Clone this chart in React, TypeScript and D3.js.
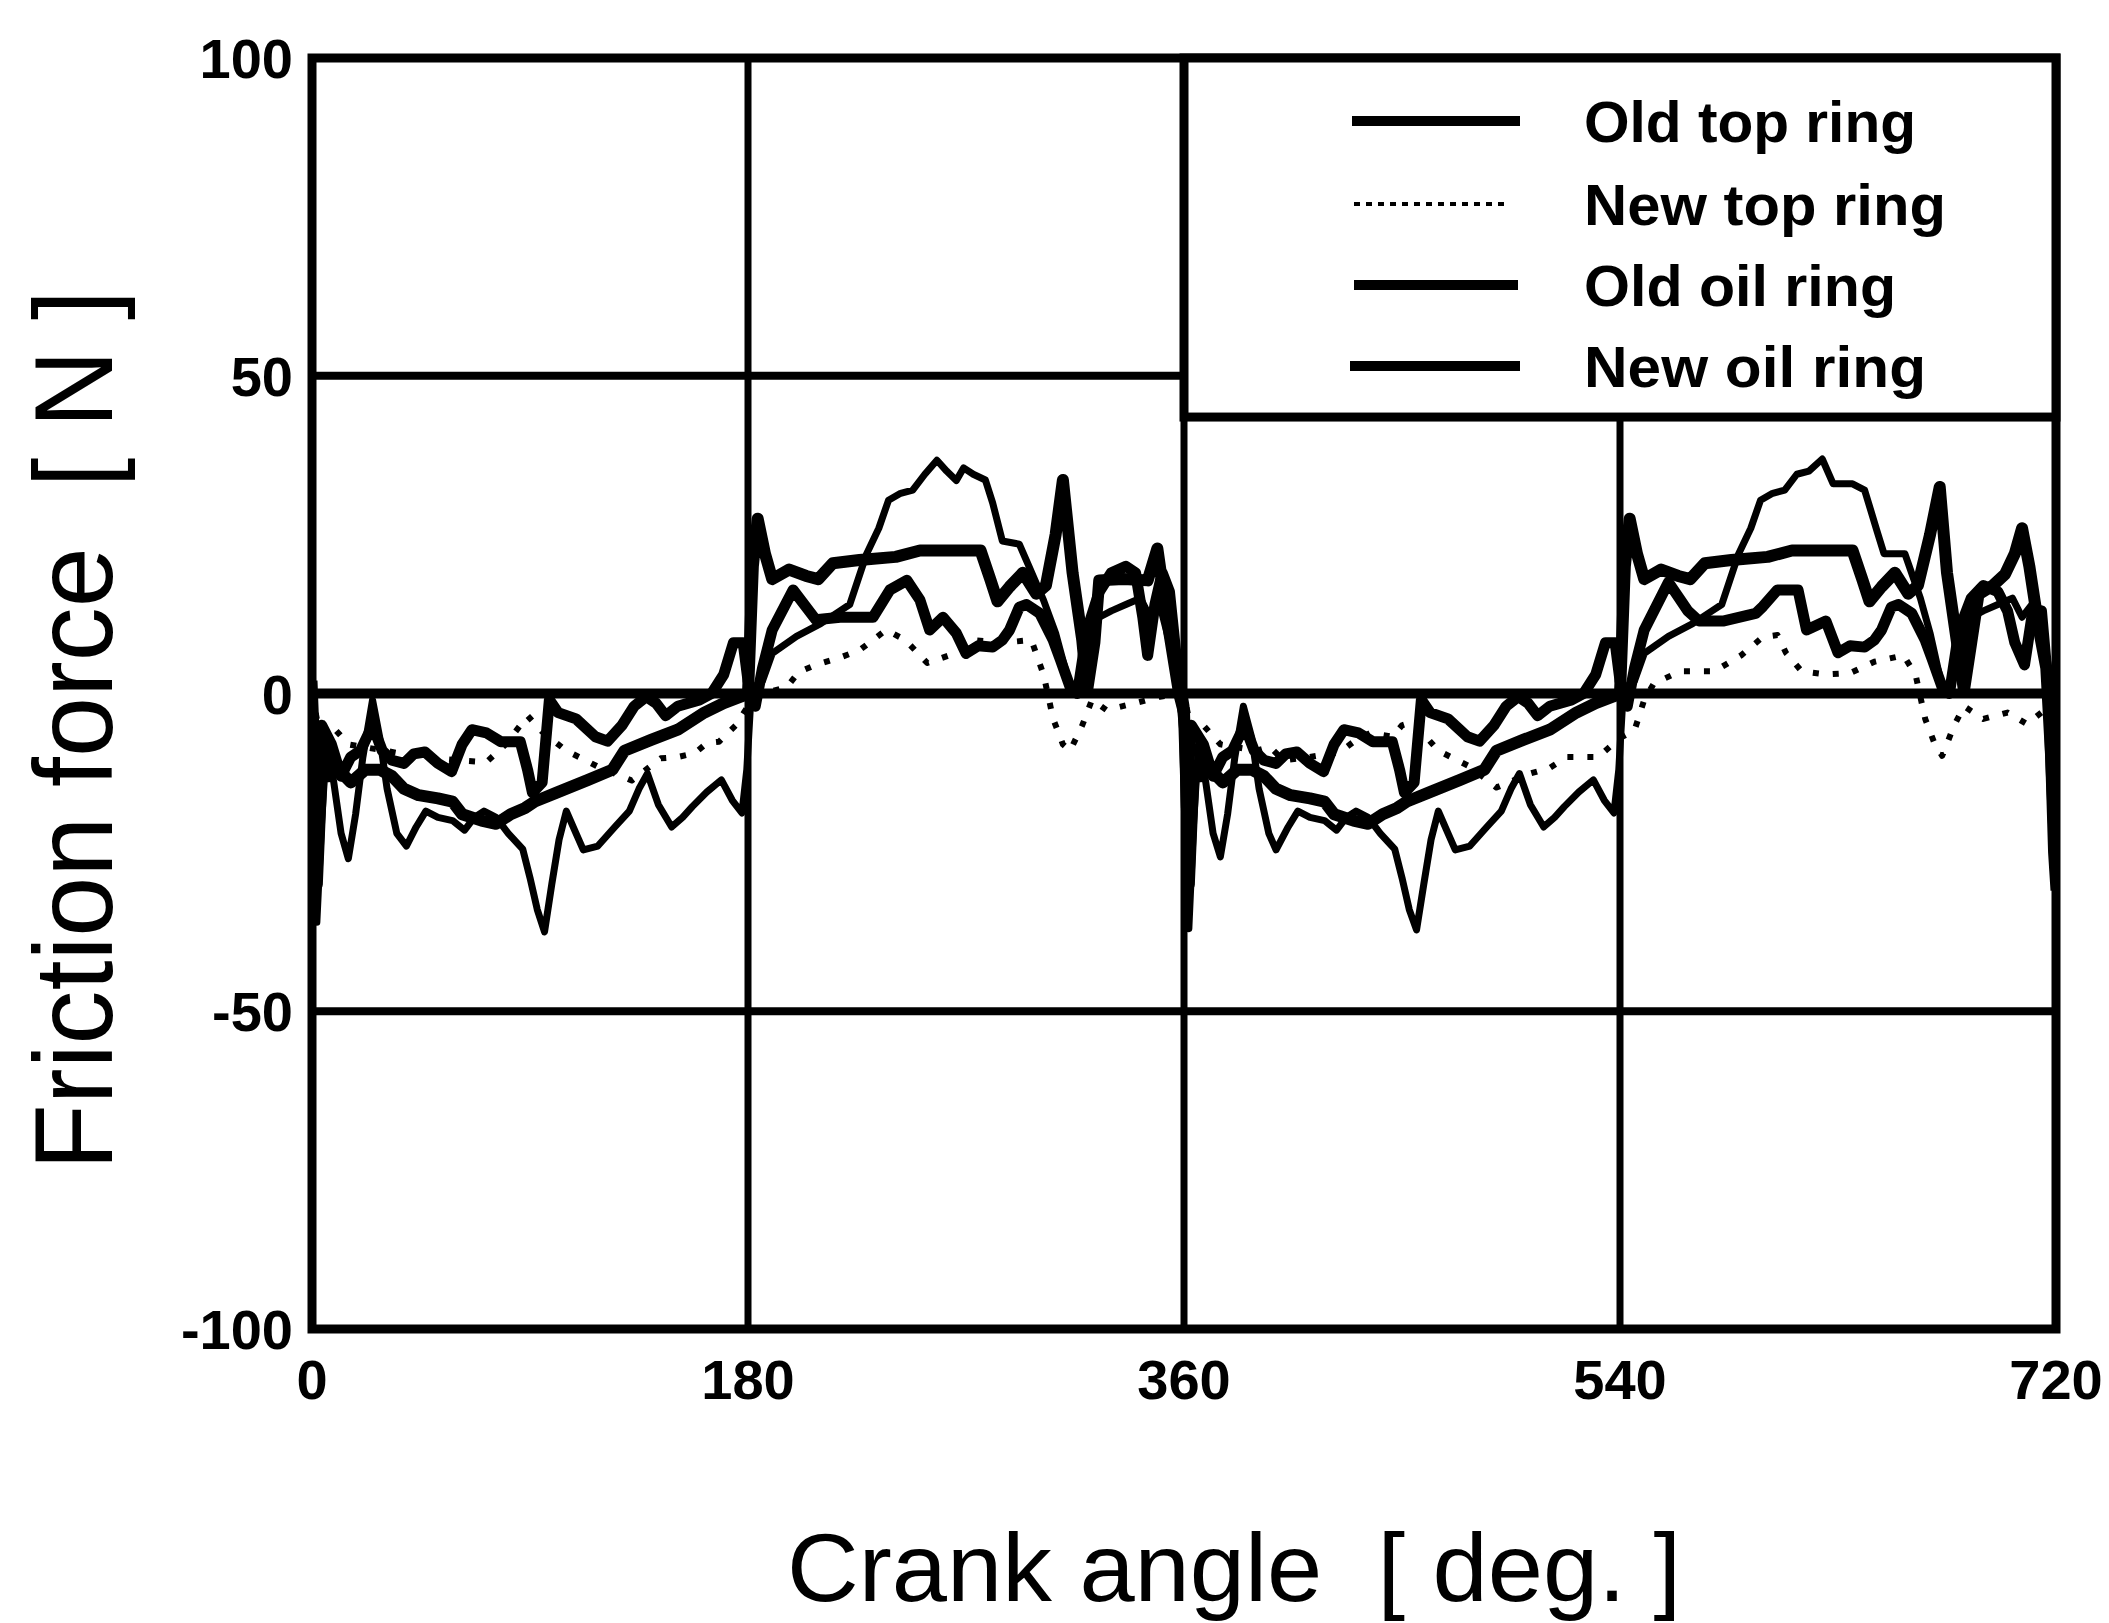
import React from 'react';
import * as d3 from 'd3';

// crank angle [deg], friction force [N]
const xTicks = [0, 180, 360, 540, 720];
const yTicks = [100, 50, 0, -50, -100];

const oldTopRing: [number, number][] = [
  [0, 2], [2, -18], [4, -5], [8, -8], [12, -13], [16, -10], [20, -9], [25, -5], [29, -9], [33, -10.5],
  [38, -11], [42, -9.5], [46.6, -9.2], [52, -11], [57.6, -12.3], [62, -8], [66, -5.7], [72, -6.2], [78, -7.6], [86, -7.6],
  [89, -12], [91, -15.6], [95, -14], [98, -1], [101.6, -3], [109, -4], [117, -6.8], [122, -7.5], [128, -5], [133, -2],
  [138, -0.5], [142, -1.5], [146, -3.5], [151, -2], [160, -1], [165, 0], [170, 3], [174, 8], [178, 8], [180, 2],
  [183, -2], [186, 4], [190, 10], [198.6, 16.3], [208, 11.6], [218, 12], [231.6, 12], [238.6, 16.3], [245.6, 17.8], [251, 14.7],
  [255, 10], [260.5, 12], [266, 9.5], [270, 6.3], [275, 7.5], [281, 7.3], [285, 8.4], [288, 10], [292, 13.6], [295, 14],
  [300.5, 12.6], [306, 8.4], [309, 5.3], [313, 1], [316, 0], [320, 10], [325, 16], [330, 19], [336, 20], [340, 19],
  [343, 12], [345, 6], [348, 14], [351, 19], [354, 16], [357, 5], [360, -2],
  [361, -18], [363, -5], [368, -8], [372, -13], [376, -10], [380, -9], [385, -5], [389, -9], [393, -10.5], [398, -11],
  [402, -9.5], [406.6, -9.2], [412, -11], [417.6, -12.3], [422, -8], [426, -5.7], [432, -6.2], [438, -7.6], [446, -7.6], [449, -12],
  [451, -15.6], [455, -14], [458, -1], [461.6, -3], [469, -4], [477, -6.8], [482, -7.5], [488, -5], [493, -2], [498, -0.5],
  [502, -1.5], [506, -3.5], [511, -2], [520, -1], [525, 0], [530, 3], [534, 8], [538, 8], [540, 2], [543, -2],
  [546, 4], [550, 10], [560, 17.5], [568, 13], [572.6, 11.4], [582.5, 11.4], [596, 12.6], [599, 13.7], [605, 16.3], [613.5, 16.3],
  [617, 10], [625, 11.4], [630, 6.4], [635, 7.5], [641, 7.3], [645, 8.4], [648, 10], [652, 13.6], [655, 14], [660.5, 12.6],
  [666, 8.4], [669, 5.3], [673, 1], [676, 0], [680, 10], [685, 15], [690, 17], [696, 16], [700, 13], [703, 8],
  [707, 4.5], [710, 12], [714, 13], [717, 0], [719, -25], [720, -31],
];

const newTopRing: [number, number][] = [
  [0, 0], [3, -6], [8, -5], [15, -8], [30, -9], [45, -10], [60, -10.5], [72, -10.8], [80, -8], [89, -3.5],
  [95, -6], [105, -9], [118, -11.5], [132, -13.7], [144, -10.2], [151, -10], [158, -9.4], [163, -7.8], [168, -7.6], [175, -5],
  [180, -2], [186, 0], [196, 1], [201, 3.4], [208, 4.5], [219, 5.8], [226, 6.8], [237, 10], [245, 8.4], [254, 4.8],
  [263, 6], [273, 8.4], [285, 8], [297, 8.4], [302, 3], [306, -4], [310, -8], [313, -9], [318, -5], [322, -1],
  [328, -2.6], [340, -1.5], [350, -0.5], [360, 0],
  [363, -6], [368, -5], [375, -8], [390, -9], [395.5, -8.4], [401, -10.5], [412, -10], [424.5, -9.2], [430, -7.6], [437, -6.2],
  [446, -6.8], [450, -5], [454, -4.5], [458, -6], [465, -9], [478, -11.5], [489, -14.8], [502, -12.7], [511, -11.7], [518, -10],
  [531, -10], [540, -7], [546, -5.8], [550, -1], [554, 1.6], [565, 3.5], [579, 3.5], [590, 6], [599, 8.9], [605, 9.2],
  [608.5, 6.4], [615, 3.5], [625, 3], [635, 3.2], [645, 5], [657, 6], [662, 3], [666, -4], [670, -8], [673, -9.8],
  [678, -5], [682, -2], [690, -4], [700, -3], [708, -4.8], [714, -3], [718, -1], [720, -4],
];

const oldOilRing: [number, number][] = [
  [0, 8], [1, -18], [2, -36], [4, -20], [6, -8], [9, -14], [12, -22], [15, -26], [18, -19], [21, -10],
  [25, -1], [28, -7], [31, -15], [35, -22], [39, -24], [43, -21], [47, -18.5], [52, -19.5], [58, -20], [63, -21.5],
  [67, -19.5], [71, -18.5], [76, -19.5], [81, -22], [87, -24.5], [90, -29], [93, -34], [96, -37.5], [99, -30], [102, -23],
  [105, -18.5], [109, -22], [112, -24.6], [118, -24], [125, -21], [131, -18.5], [135, -15], [138.5, -12.6], [143, -17.5], [148.5, -21],
  [153, -19.5], [157, -17.8], [163, -15.5], [169, -13.6], [173.5, -16.8], [177.5, -18.8], [179.5, -12], [181, -2], [183, 1], [186, 2],
  [190, 6.3], [200, 9], [210, 11], [218, 13], [222, 14], [229, 22], [234, 26], [238, 30.4], [243, 31.5], [248, 32],
  [253, 34.5], [258, 36.7], [262, 35], [266, 33.5], [269, 35.5], [273, 34.5], [278, 33.6], [281, 30], [285, 24], [292, 23.5],
  [296, 20], [302, 14.7], [307, 9.5], [313, 1], [316, 0.5], [320, 5], [325, 12], [330, 13], [336, 14], [342, 15],
  [346, 12], [350, 14], [354, 8], [358, 0], [360, -8],
  [361, -20], [362, -37], [364, -20], [366, -8], [369, -14], [372, -22], [375, -25.7], [378, -19], [381, -10], [384.5, -2],
  [388, -7], [391, -15], [395, -22], [398, -24.6], [403, -21], [407, -18.5], [412, -19.5], [418, -20], [423, -21.5], [427, -19.5],
  [431, -18.5], [436, -19.5], [441, -22], [447, -24.5], [450, -29], [453, -34], [456, -37.2], [459, -30], [462, -23], [465, -18.5],
  [469, -22], [472, -24.6], [478, -24], [485, -21], [491, -18.5], [495, -15], [498.5, -12.6], [503, -17.5], [508.5, -21], [513, -19.5],
  [517, -17.8], [523, -15.5], [529, -13.6], [533.5, -16.8], [537.5, -18.8], [539.5, -12], [541, -2], [543, 1], [546, 2], [550, 6.3],
  [560, 9], [570, 11], [578, 13], [582, 14], [589, 22], [594, 26], [598, 30.4], [603, 31.5], [608, 32], [613, 34.5],
  [618, 35], [623.5, 36.9], [628, 33], [636, 33], [641, 32], [646, 25.7], [649, 22], [657.6, 22], [664, 15], [668, 9.5],
  [673, 1], [676, 0.5], [680, 5], [685, 12], [690, 13], [696, 14], [702, 15], [706, 12], [710, 14], [714, 8],
  [717, 0], [719, -20], [720, -30],
];

const newOilRing: [number, number][] = [
  [0, -6], [2, -30], [4, -12], [7, -13], [11, -12], [16, -14], [22, -12], [28, -12], [33, -13], [38, -15],
  [44, -16], [52, -16.5], [58, -17], [62, -19], [70, -20], [76, -20.5], [82, -19], [88, -18], [92, -17], [101, -15.6],
  [114, -13.6], [124, -12], [129, -9], [140, -7.3], [151, -5.7], [162, -3], [170, -1.5], [177, -0.5], [180, 0], [182, 20],
  [184, 27.5], [187, 22], [190, 18], [197, 19.5], [204, 18.5], [209, 18], [215, 20.5], [226, 21], [241, 21.5], [251, 22.5],
  [265, 22.5], [276, 22.5], [280, 18], [283, 14.5], [288, 16.8], [293.5, 19], [299, 15.7], [303, 17], [307, 25], [310, 33.6],
  [314, 19], [318, 8.4], [320, 0.5], [323, 8], [325, 17.8], [335, 18], [345, 17.8], [349, 22.8], [354, 9.4], [358, 0],
  [360, -3],
  [361, -15], [362, -30], [364, -12], [367, -13], [371, -12], [376, -14], [382, -12], [388, -12], [393, -13], [398, -15],
  [404, -16], [412, -16.5], [418, -17], [422, -19], [430, -20], [436, -20.5], [442, -19], [448, -18], [452, -17], [461, -15.6],
  [474, -13.6], [484, -12], [489, -9], [500, -7.3], [511, -5.7], [522, -3], [530, -1.5], [537, -0.5], [540, 0], [542, 20],
  [544, 27.5], [547, 22], [550, 18], [557, 19.5], [564, 18.5], [569, 18], [575, 20.5], [586, 21], [601, 21.5], [611, 22.5],
  [625, 22.5], [636, 22.5], [640, 18], [643, 14.5], [648, 16.8], [653.5, 19], [659, 15.7], [663, 17], [668, 25], [672, 32.5],
  [675, 19], [679, 8.4], [682, 0.5], [685, 8], [688, 15.6], [694, 17], [699, 18.8], [703, 22], [706, 26], [709, 20],
  [713, 10], [716, 4], [718, -10], [720, -28],
];

const legendLabels = ['Old top ring', 'New top ring', 'Old oil ring', 'New oil ring'];
const legendWidths = [332, 362, 312, 342];

const font = 'Liberation Sans, Arial, Helvetica, sans-serif';

export default function App() {
  const x = d3.scaleLinear().domain([0, 720]).range([312, 2056]);
  const y = d3.scaleLinear().domain([-100, 100]).range([1329, 58]);
  const line = d3.line<[number, number]>().x(d => x(d[0])).y(d => y(d[1]));

  const legendBottom = y(43.5);
  const series = [
    { data: oldOilRing, w: 7, dash: undefined },
    { data: oldTopRing, w: 11, dash: undefined },
    { data: newOilRing, w: 12, dash: undefined },
    { data: newTopRing, w: 6, dash: '6 14' },
  ];
  const legendStyle = [
    { w: 10, dash: undefined, x0: 1352, x1: 1520 },
    { w: 4, dash: '6 6', x0: 1354, x1: 1506 },
    { w: 10, dash: undefined, x0: 1354, x1: 1518 },
    { w: 10, dash: undefined, x0: 1350, x1: 1520 },
  ];
  const legendRows = [121, 204, 285, 366];

  return (
    <svg width={2109} height={1623} style={{ position: 'absolute', left: 0, top: 0, background: '#fff' }}>
      <defs>
        <clipPath id="plotArea">
          <rect x={x(0)} y={y(100)} width={x(720) - x(0)} height={y(-100) - y(100)} />
        </clipPath>
      </defs>

      {/* grid */}
      <line x1={x(0)} x2={x(360)} y1={y(50)} y2={y(50)} stroke="#000" strokeWidth={8} />
      <line x1={x(0)} x2={x(720)} y1={y(-50)} y2={y(-50)} stroke="#000" strokeWidth={8} />
      <line x1={x(180)} x2={x(180)} y1={y(100)} y2={y(-100)} stroke="#000" strokeWidth={7} />
      <line x1={x(360)} x2={x(360)} y1={y(100)} y2={y(-100)} stroke="#000" strokeWidth={7} />
      <line x1={x(540)} x2={x(540)} y1={legendBottom} y2={y(-100)} stroke="#000" strokeWidth={7} />
      <line x1={x(0)} x2={x(720)} y1={y(0)} y2={y(0)} stroke="#000" strokeWidth={10} />

      <g clipPath="url(#plotArea)" fill="none" stroke="#000" strokeLinejoin="round">
        {series.map((s, i) => (
          <path key={i} d={line(s.data) || ''} strokeWidth={s.w} strokeDasharray={s.dash} />
        ))}
      </g>

      {/* frame */}
      <rect x={x(0)} y={y(100)} width={x(720) - x(0)} height={y(-100) - y(100)} fill="none" stroke="#000" strokeWidth={9} />

      {/* legend */}
      <rect x={x(360)} y={y(100)} width={x(720) - x(360)} height={legendBottom - y(100)} fill="#fff" stroke="#000" strokeWidth={9} />
      {legendLabels.map((label, i) => (
        <g key={label}>
          <line x1={legendStyle[i].x0} x2={legendStyle[i].x1} y1={legendRows[i]} y2={legendRows[i]}
            stroke="#000" strokeWidth={legendStyle[i].w} strokeDasharray={legendStyle[i].dash} />
          <text x={1584} y={legendRows[i] + 21} fontFamily={font} fontWeight="bold" fontSize={58}
            textLength={legendWidths[i]} lengthAdjust="spacingAndGlyphs">{label}</text>
        </g>
      ))}

      {/* ticks */}
      {yTicks.map(t => (
        <text key={t} x={293} y={y(t) + 20} textAnchor="end" fontFamily={font} fontWeight="bold" fontSize={56}>{t}</text>
      ))}
      {xTicks.map(t => (
        <text key={t} x={x(t)} y={1399} textAnchor="middle" fontFamily={font} fontWeight="bold" fontSize={56}>{t}</text>
      ))}

      {/* axis titles */}
      <text x={1234} y={1601} textAnchor="middle" fontFamily={font} fontSize={96}
        textLength={894} lengthAdjust="spacingAndGlyphs" style={{ whiteSpace: 'pre' }}>Crank angle  [ deg. ]</text>
      <text transform="translate(112,730) rotate(-90)" textAnchor="middle" fontFamily={font} fontSize={112}
        textLength={880} lengthAdjust="spacingAndGlyphs" style={{ whiteSpace: 'pre' }}>Friction force  [ N ]</text>
    </svg>
  );
}
